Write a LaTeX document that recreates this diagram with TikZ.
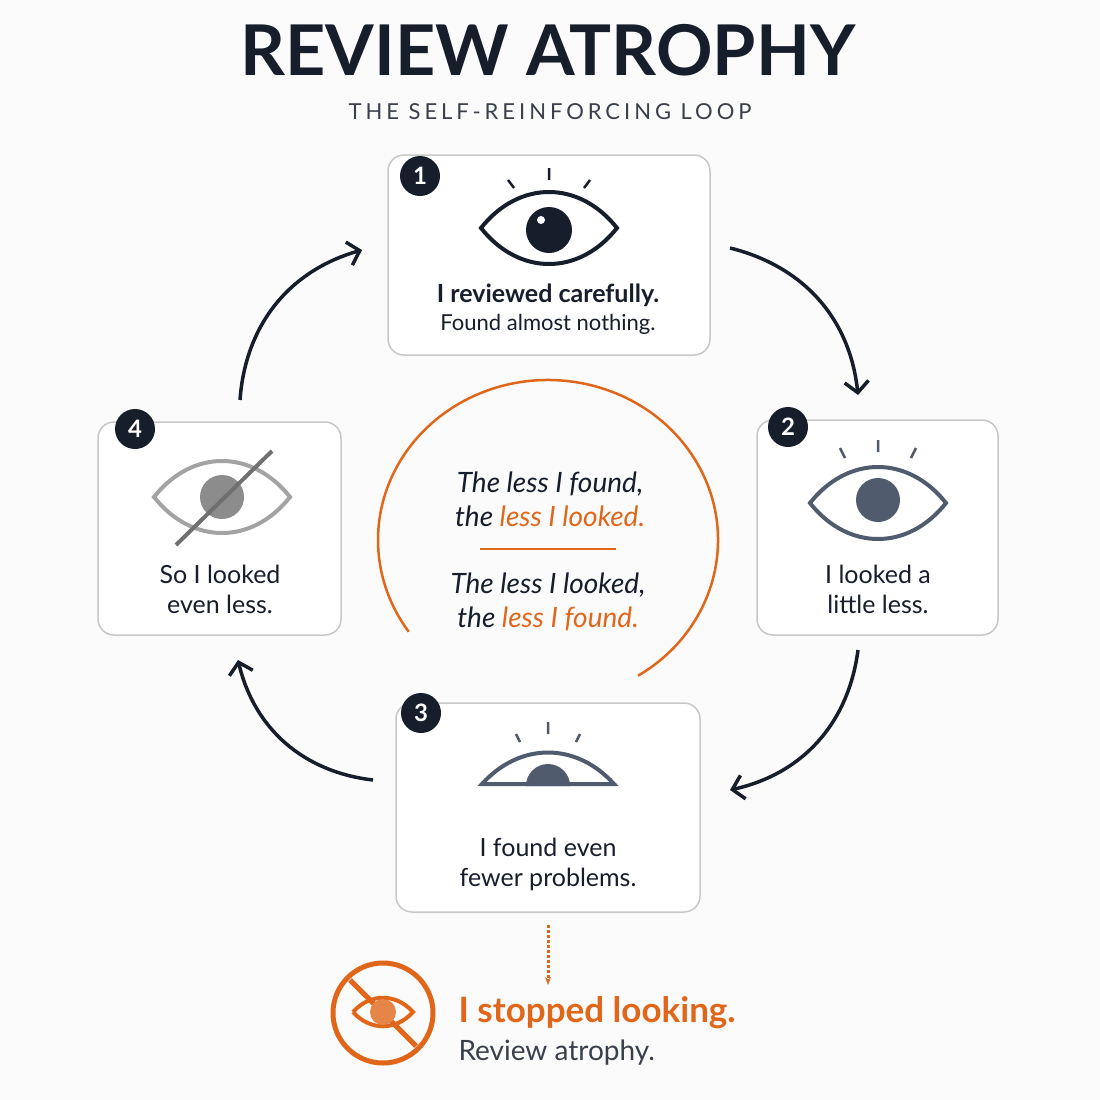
\documentclass[tikz,border=0pt]{standalone}
\usepackage{fontspec}
\setmainfont{Lato}
\usetikzlibrary{arrows.meta,positioning}
\definecolor{ink}{HTML}{161D2B}
\definecolor{slate}{HTML}{505C6E}
\definecolor{fade}{HTML}{8C8C8C}
\definecolor{accent}{HTML}{E0661A}
\definecolor{frame}{HTML}{C8C8C8}
\begin{document}
\begin{tikzpicture}[x=1pt,y=-1pt]
	%defines
	\tikzset{
		stepBox/.style={draw=frame, line width=1.5pt, rounded corners=16pt, fill=white},
		badge/.style={circle, fill=ink, text=white, minimum size=40pt, inner sep=0pt, font=\fontsize{24}{24}\selectfont\bfseries},
		caption/.style={text=ink, align=center, font=\fontsize{25}{34}\selectfont},
		lead/.style={text=ink, align=center, font=\fontsize{28}{38}\selectfont\itshape},
		flow/.style={ink, line width=3.5pt, -{Straight Barb[length=11pt,width=24pt,line width=3.5pt]}},
		eye/.pic={
			\draw[line width=4pt, pic actions] (-68,0) .. controls (-30,-48) and (30,-48) .. (68,0)
				.. controls (30,48) and (-30,48) .. (-68,0) -- cycle;
		}
	}
	\fill[white!97!gray] (0,0) rectangle (1100,1100);
	\useasboundingbox (0,0) rectangle (1100,1100);
	%title
	\node (title) at (548,50) [text=ink, font=\fontsize{70}{70}\selectfont\bfseries] {REVIEW ATROPHY};
	\node (subtitle) at (550,112) [text=ink!85, font=\fontsize{22}{22}\selectfont\addfontfeature{LetterSpace=18}] {THE SELF-REINFORCING LOOP};
	%boxes
	\draw[stepBox] (388,155) rectangle (710,355);
	\draw[stepBox] (757,420) rectangle (998,635);
	\draw[stepBox] (396,703) rectangle (700,912);
	\draw[stepBox] (98,422) rectangle (341,635);
	\node (b1) at (420,176) [badge] {1};
	\node (b2) at (788,427) [badge] {2};
	\node (b3) at (421,713) [badge] {3};
	\node (b4) at (135,429) [badge] {4};
	%eye 1
	\pic[draw=ink] at (549,228) {eye};
	\fill[ink] (549,230) circle (23);
	\fill[white] (541,220) circle (4);
	\draw[ink, line width=2.5pt] (549,168) -- (549,180) (508,180) -- (514,188) (590,180) -- (584,188);
	%eye 2
	\pic[draw=slate] at (878,503) {eye};
	\fill[slate] (878,500) circle (22);
	\draw[slate, line width=2.5pt] (878,440) -- (878,452) (840,448) -- (845,458) (916,448) -- (911,458);
	%eye 3
	\draw[slate, line width=4pt, fill=white] (482,784) .. controls (520,742) and (576,742) .. (614,784) -- cycle;
	\fill[slate] (526,786) arc (180:360:22);
	\draw[slate, line width=2.5pt] (548,722) -- (548,734) (516,734) -- (520,742) (580,734) -- (576,742);
	%eye 4
	\pic[draw=fade, opacity=0.8] at (222,497) {eye};
	\fill[fade] (222,497) circle (22);
	\draw[fade!80!black, line width=4pt] (176,545) -- (272,451);
	%captions
	\node (c1) at (548,309) [caption] {\textbf{I reviewed carefully.}\\[-6pt]{\fontsize{22}{30}\selectfont Found almost nothing.}};
	\node (c2) at (878,589) [caption] {I looked a\\[-4pt]little less.};
	\node (c3) at (548,864) [caption] {I found even\\[-4pt]fewer problems.};
	\node (c4) at (220,589) [caption] {So I looked\\[-4pt]even less.};
	%centre
	\draw[accent, line width=2.5pt] (548,540) ++(58:170 and 160) arc (58:-215:170 and 160);
	\node (m1) at (550,499) [lead] {The less I found,\\[-4pt]the \textcolor{accent}{less I looked.}};
	\draw[accent, line width=2pt] (480,549) -- (616,549);
	\node (m2) at (548,602) [lead] {The less I looked,\\[-4pt]the \textcolor{accent}{less I found.}};
	%loop arrows
	\coordinate (s41) at (240,400); \coordinate (e41) at (362,250);
	\coordinate (s12) at (730,248); \coordinate (e12) at (858,395);
	\coordinate (s23) at (858,650); \coordinate (e23) at (730,790);
	\coordinate (s34) at (373,780); \coordinate (e34) at (238,660);
	\draw[flow] (s41) to[bend left=35] (e41);
	\draw[flow] (s12) to[bend left=35] (e12);
	\draw[flow] (s23) to[bend left=35] (e23);
	\draw[flow] (s34) to[bend left=35] (e34);
	%outcome
	\coordinate (d1) at (548,925); \coordinate (d2) at (548,985);
	\draw[accent, line width=3pt, dotted, -{Stealth[length=8pt]}] (d1) -- (d2);
	\draw[accent, line width=5pt] (383,1013) circle (50) (350,980) -- (416,1046);
	\draw[accent, line width=4pt] (353,1012) .. controls (370,993) and (396,993) .. (413,1012) .. controls (396,1031) and (370,1031) .. (353,1012);
	\fill[accent!80] (383,1012) circle (13);
	\node (stop) at (455,1013) [anchor=west, text=accent, font=\fontsize{35}{35}\selectfont\bfseries] {I stopped looking.};
	\node (atrophy) [below=4pt of stop.south west, anchor=north west, text=ink!85, font=\fontsize{28}{28}\selectfont] {Review atrophy.};
\end{tikzpicture}
\end{document}
